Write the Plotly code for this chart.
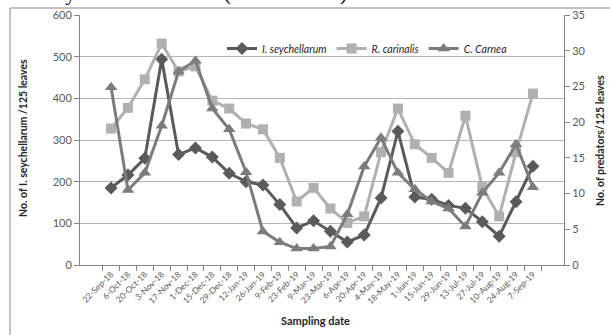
import plotly.graph_objects as go

dates = ["22-Sep-18", "6-Oct-18", "20-Oct-18", "3-Nov-18", "17-Nov-18", "1-Dec-18",
         "15-Dec-18", "29-Dec-18", "12-Jan-19", "26-Jan-19", "9-Feb-19", "23-Feb-19",
         "9-Mar-19", "23-Mar-19", "6-Apr-19", "20-Apr-19", "4-May-19", "18-May-19",
         "1-Jun-19", "15-Jun-19", "29-Jun-19", "13-Jul-19", "27-Jul-19", "10-Aug-19",
         "24-Aug-19", "7-Sep-19"]

seychellarum = [185, 216, 256, 494, 265, 281, 259, 220, 200, 192, 145, 89, 106, 81, 55,
                72, 161, 321, 163, 158, 143, 136, 104, 69, 152, 237]
carinalis = [19.1, 22.0, 26.0, 31.0, 27.1, 27.8, 23.0, 21.9, 19.8, 19.0, 15.0, 8.9, 10.8,
             7.9, 5.9, 6.8, 15.8, 21.9, 16.9, 15.0, 12.9, 20.9, 10.9, 6.8, 15.8, 24.0]
carnea = [24.9, 10.5, 12.9, 19.5, 27.1, 28.6, 21.9, 19.0, 13.0, 4.7, 3.2, 2.3, 2.3, 2.6,
          7.1, 13.8, 17.8, 12.9, 10.6, 8.9, 7.9, 5.4, 10.1, 12.9, 16.9, 10.9]

left_ticks = [0, 100, 200, 300, 400, 500, 600]
right_ticks = [0, 5, 10, 15, 20, 25, 30, 35]

C_DARK = "#5a5a5a"
C_LIGHT = "#b0b0b0"
C_MID = "#7c7c7c"
AX = "#868686"
TXT = "#595959"

fig = go.Figure()
fig.add_trace(go.Scatter(x=dates, y=seychellarum, name="I. seychellarum", mode="lines+markers",
                         line=dict(color=C_DARK, width=3),
                         marker=dict(symbol="diamond", size=10, color=C_DARK)))
fig.add_trace(go.Scatter(x=dates, y=carinalis, name="R. carinalis", mode="lines+markers",
                         yaxis="y2", line=dict(color=C_LIGHT, width=3),
                         marker=dict(symbol="square", size=10, color=C_LIGHT)))
fig.add_trace(go.Scatter(x=dates, y=carnea, name="C. Carnea", mode="lines+markers",
                         yaxis="y2", line=dict(color=C_MID, width=3),
                         marker=dict(symbol="triangle-up", size=11, color=C_MID)))

W, H = 610, 335
L, R, T, B = 80, 46, 15, 70
pw, ph = W - L - R, H - T - B


def px(x):
    return (x - L) / pw


def py(y):
    return (H - B - y) / ph


fig.update_layout(
    width=W, height=H,
    margin=dict(l=L, r=R, t=T, b=B, autoexpand=False),
    paper_bgcolor="white", plot_bgcolor="white",
    font=dict(family="Lato, Open Sans, sans-serif", color=TXT),
    showlegend=True,
    legend=dict(orientation="h", x=px(222), xanchor="left", y=py(34), yanchor="top",
                font=dict(size=10.5, style="italic", color="#262626"),
                bgcolor="rgba(0,0,0,0)", itemwidth=30, tracegroupgap=0),
    xaxis=dict(type="category", showline=True, linecolor=AX, linewidth=1,
               ticks="outside", tickson="boundaries", ticklen=5, tickcolor=AX,
               tickangle=-45, tickfont=dict(size=8.5, color=TXT), showgrid=False,
               automargin=False),
    yaxis=dict(range=[0, 600], tickvals=left_ticks, showgrid=True, gridcolor="#b5b5b5",
               gridwidth=1, zeroline=False, showline=True, linecolor=AX, ticks="outside",
               ticklen=5, tickcolor=AX, tickfont=dict(size=11, color=TXT), automargin=False),
    yaxis2=dict(range=[0, 35], tickvals=right_ticks, overlaying="y", side="right",
                showgrid=False, zeroline=False, showline=True, linecolor=AX, ticks="outside",
                ticklen=5, tickcolor=AX, tickfont=dict(size=11, color=TXT), automargin=False),
    shapes=[dict(type="rect", xref="paper", yref="paper", x0=px(10), x1=px(640),
                 y0=py(8), y1=py(360), line=dict(color=AX, width=1), layer="below")],
    annotations=[
        dict(text="February and March 2019 (2 individuals).", xref="paper", yref="paper",
             x=px(-2), y=py(7), xanchor="left", yanchor="bottom", showarrow=False,
             font=dict(family="Liberation Serif", size=21, color="black")),
        dict(text="<b>Sampling date</b>", xref="paper", yref="paper", x=px(315), y=py(320),
             xanchor="center", yanchor="middle", showarrow=False,
             font=dict(size=11, color="#262626")),
        dict(text="<b>No. of I. seychellarum /125 leaves</b>", xref="paper", yref="paper",
             x=px(23), y=py(138), textangle=-90, xanchor="center", yanchor="middle",
             showarrow=False, font=dict(size=10.5, color="#262626")),
        dict(text="<b>No. of predators/125 leaves</b>", xref="paper", yref="paper",
             x=px(600), y=py(141), textangle=-90, xanchor="center", yanchor="middle",
             showarrow=False, font=dict(size=10.5, color="#262626")),
    ],
)

fig.write_html("out.html", config={"displayModeBar": False},
               post_script="document.body.style.margin='0';document.body.style.overflow='hidden';")
